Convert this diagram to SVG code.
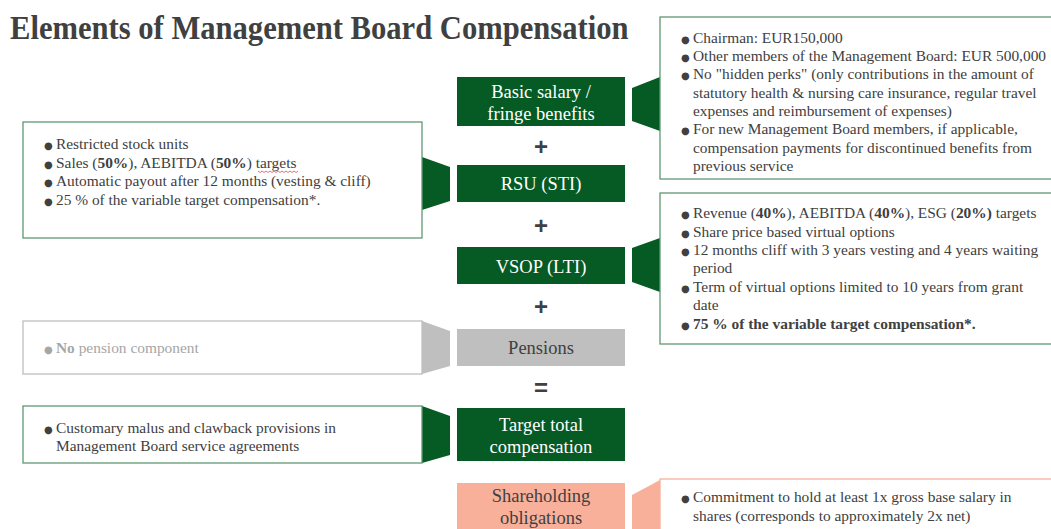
<svg xmlns="http://www.w3.org/2000/svg" width="1051" height="529" viewBox="0 0 1051 529">
<style>
.title{font-family:"Liberation Serif","Times New Roman",serif;font-weight:bold;font-size:34px;fill:#404040}
.t{font-family:"Liberation Serif","Times New Roman",serif;font-size:15.4px;fill:#404040}
.g{fill:#a6a6a6}
.bul{font-family:"DejaVu Sans",sans-serif;font-size:10px}
.lbl{font-family:"Liberation Serif","Times New Roman",serif;font-size:18.5px;fill:#ffffff;text-anchor:middle}
.lblg{font-family:"Liberation Serif","Times New Roman",serif;font-size:18.5px;fill:#404040;text-anchor:middle}
.op{font-family:"Liberation Sans",Arial,sans-serif;font-weight:bold;font-size:24px;fill:#404040;text-anchor:middle}
.dg{fill:#065a24}
.gr{fill:#bfbfbf}
.sa{fill:#f8b09b}
.bx{fill:#ffffff;stroke:#5f9872;stroke-width:1.3}
.bxg{fill:#ffffff;stroke:#bfbfbf;stroke-width:1.3}
.bxs{fill:#ffffff;stroke:#f8b09b;stroke-width:1.3}
</style>
<rect width="1051" height="529" fill="#ffffff"/>
<text class="title" transform="translate(10,39) scale(0.9,1)" x="0" y="0">Elements of Management Board Compensation</text>

<g id="connectors">
<polygon class="dg" points="632,88 660,77 660,131 632,121"/>
<polygon class="dg" points="422,157 450,167 450,201 422,210"/>
<polygon class="dg" points="632,248 660,238 660,292 632,282"/>
<polygon class="gr" points="422,321 450,331 450,366 422,374"/>
<polygon class="dg" points="422,406 450,416 450,455 422,463"/>
<polygon class="sa" points="632,495 660,480 660,529 632,529"/>
</g>

<g id="basic">
<rect class="dg" x="457" y="77" width="168" height="49"/>
<text class="lbl" x="541" y="98">Basic salary /</text>
<text class="lbl" x="541" y="120">fringe benefits</text>
</g>
<text class="op" x="541" y="155">+</text>
<g id="rsu">
<rect class="dg" x="457" y="165" width="168" height="37"/>
<text class="lbl" x="541" y="190">RSU (STI)</text>
</g>
<text class="op" x="541" y="234">+</text>
<g id="vsop">
<rect class="dg" x="457" y="247" width="168" height="37"/>
<text class="lbl" x="541" y="273">VSOP (LTI)</text>
</g>
<text class="op" x="541" y="315">+</text>
<g id="pensions">
<rect class="gr" x="457" y="329" width="168" height="37"/>
<text class="lblg" x="541" y="354">Pensions</text>
</g>
<text class="op" x="541" y="396">=</text>
<g id="target">
<rect class="dg" x="457" y="408" width="168" height="53"/>
<text class="lbl" x="541" y="431">Target total</text>
<text class="lbl" x="541" y="453">compensation</text>
</g>
<g id="shareholding">
<rect class="sa" x="457" y="483" width="168" height="50"/>
<text class="lblg" x="541" y="502">Shareholding</text>
<text class="lblg" x="541" y="524">obligations</text>
</g>

<g id="basic-desc">
<rect class="bx" x="660" y="17" width="400" height="162"/>
<text class="t" x="681" y="43"><tspan class="bul">●</tspan><tspan x="693">Chairman: EUR150,000</tspan></text>
<text class="t" x="681" y="61"><tspan class="bul">●</tspan><tspan x="693">Other members of the Management Board: EUR 500,000</tspan></text>
<text class="t" x="681" y="79"><tspan class="bul">●</tspan><tspan x="693">No "hidden perks" (only contributions in the amount of</tspan></text>
<text class="t" x="693" y="98">statutory health &amp; nursing care insurance, regular travel</text>
<text class="t" x="693" y="116">expenses and reimbursement of expenses)</text>
<text class="t" x="681" y="134"><tspan class="bul">●</tspan><tspan x="693">For new Management Board members, if applicable,</tspan></text>
<text class="t" x="693" y="153">compensation payments for discontinued benefits from</text>
<text class="t" x="693" y="171">previous service</text>
</g>

<g id="rsu-desc">
<rect class="bx" x="23" y="122" width="399" height="116"/>
<text class="t" x="44" y="149"><tspan class="bul">●</tspan><tspan x="56">Restricted stock units</tspan></text>
<text class="t" x="44" y="168"><tspan class="bul">●</tspan><tspan x="56">Sales (</tspan><tspan font-weight="bold">50%</tspan><tspan>), AEBITDA (</tspan><tspan font-weight="bold">50%</tspan><tspan>) targets</tspan></text>
<path d="M258,171 l2,1.5 l2,-1.5 l2,1.5 l2,-1.5 l2,1.5 l2,-1.5 l2,1.5 l2,-1.5 l2,1.5 l2,-1.5 l2,1.5 l2,-1.5 l2,1.5 l2,-1.5 l2,1.5 l2,-1.5 l2,1.5 l2,-1.5 l2,1.5 l2,-1.5" fill="none" stroke="#e05050" stroke-width="0.8"/>
<text class="t" x="44" y="186"><tspan class="bul">●</tspan><tspan x="56">Automatic payout after 12 months (vesting &amp; cliff)</tspan></text>
<text class="t" x="44" y="205"><tspan class="bul">●</tspan><tspan x="56">25 % of the variable target compensation*.</tspan></text>
</g>

<g id="vsop-desc">
<rect class="bx" x="660" y="193" width="400" height="151"/>
<text class="t" x="681" y="218"><tspan class="bul">●</tspan><tspan x="693">Revenue (</tspan><tspan font-weight="bold">40%</tspan><tspan>), AEBITDA (</tspan><tspan font-weight="bold">40%</tspan><tspan>), ESG (</tspan><tspan font-weight="bold">20%)</tspan><tspan> targets</tspan></text>
<text class="t" x="681" y="237"><tspan class="bul">●</tspan><tspan x="693">Share price based virtual options</tspan></text>
<text class="t" x="681" y="255"><tspan class="bul">●</tspan><tspan x="693">12 months cliff with 3 years vesting and 4 years waiting</tspan></text>
<text class="t" x="693" y="273">period</text>
<text class="t" x="681" y="292"><tspan class="bul">●</tspan><tspan x="693">Term of virtual options limited to 10 years from grant</tspan></text>
<text class="t" x="693" y="310">date</text>
<text class="t" x="681" y="329" font-weight="bold"><tspan class="bul">●</tspan><tspan x="693">75 % of the variable target compensation*.</tspan></text>
</g>

<g id="pension-desc">
<rect class="bxg" x="23" y="321" width="399" height="53"/>
<text class="t g" x="44" y="353"><tspan class="bul">●</tspan><tspan x="56" font-weight="bold">No</tspan><tspan> pension component</tspan></text>
</g>

<g id="malus-desc">
<rect class="bx" x="23" y="406" width="399" height="57"/>
<text class="t" x="44" y="433"><tspan class="bul">●</tspan><tspan x="56">Customary malus and clawback provisions in</tspan></text>
<text class="t" x="56" y="451">Management Board service agreements</text>
</g>

<g id="shareholding-desc">
<rect class="bxs" x="660" y="479" width="400" height="60"/>
<text class="t" x="681" y="502"><tspan class="bul">●</tspan><tspan x="693">Commitment to hold at least 1x gross base salary in</tspan></text>
<text class="t" x="693" y="521">shares (corresponds to approximately 2x net)</text>
</g>
</svg>
